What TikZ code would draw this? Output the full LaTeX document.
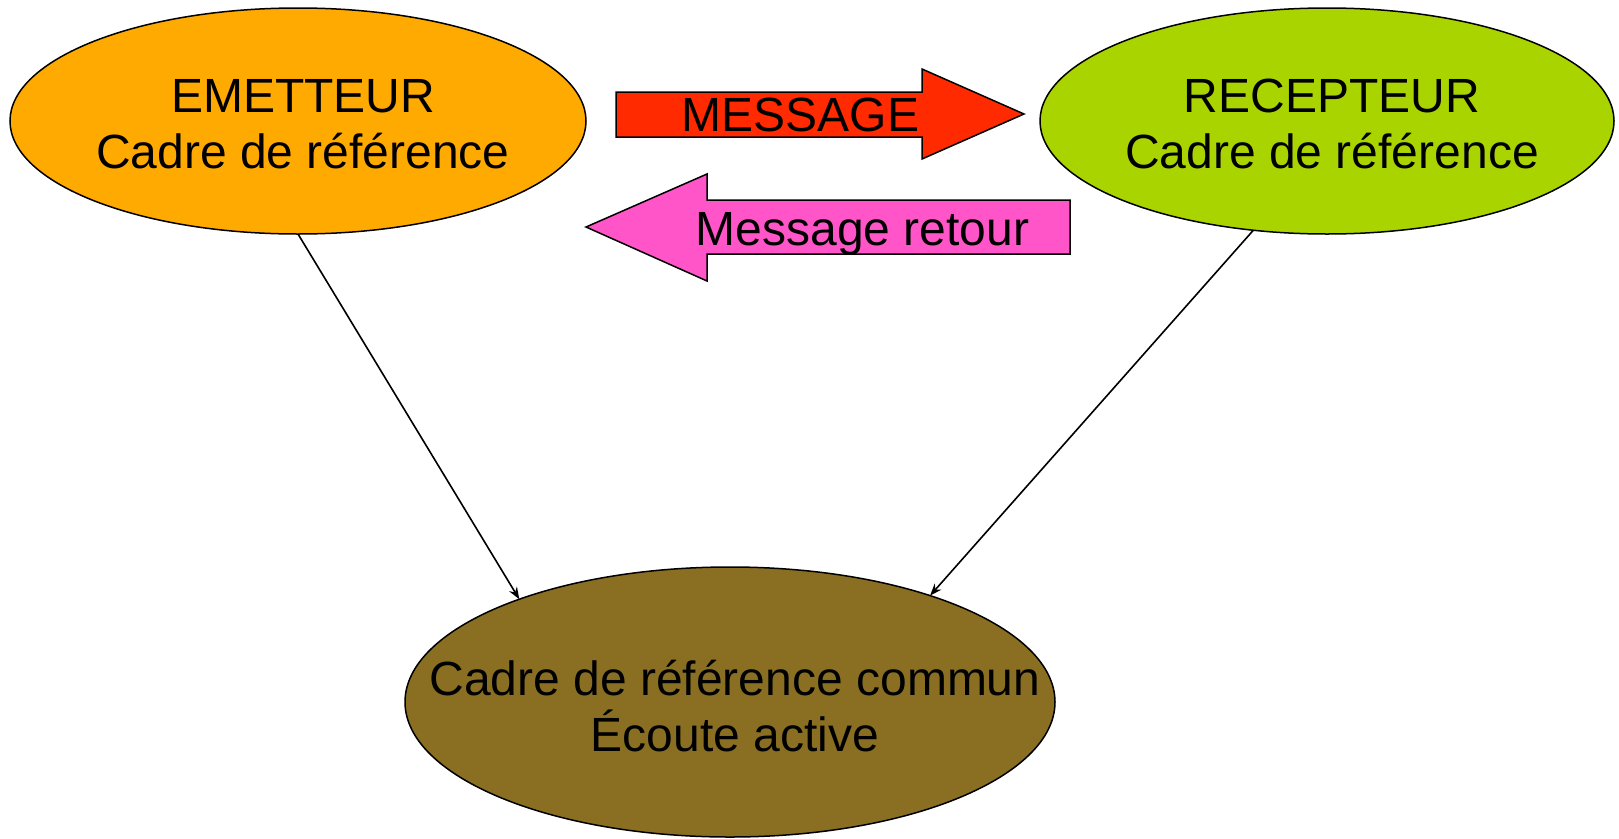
\documentclass[tikz,border=0pt]{standalone}
\usepackage{fontspec}
\setmainfont{Liberation Sans}
\usetikzlibrary{shapes.geometric,arrows.meta}
\definecolor{emcol}{HTML}{FFAA00}
\definecolor{reccol}{HTML}{AAD400}
\definecolor{comcol}{HTML}{8A6F23}
\definecolor{msgcol}{HTML}{FF2A00}
\definecolor{retcol}{HTML}{FF55C8}
\begin{document}
\begin{tikzpicture}[x=1pt,y=-1pt,
  bubble/.style={ellipse, draw=black, line width=1.5pt, inner sep=0pt, outer sep=0pt},
  lbl/.style={font=\fontsize{48}{56}\selectfont, align=center, inner sep=0pt},
  blockarrow/.style={draw=black, line width=1.5pt, line join=miter},
  link/.style={line width=1.6pt, -{Stealth[length=12pt,width=9pt]}}]
\useasboundingbox (0,0) rectangle (1619,838);
% ellipses
\node[bubble, fill=emcol, minimum width=576pt, minimum height=226pt] (em) at (298,121) {};
\node[bubble, fill=reccol, minimum width=574pt, minimum height=226pt] (rec) at (1327,121) {};
\node[bubble, fill=comcol, minimum width=650pt, minimum height=270pt] (cm) at (730,702) {};
\node[lbl, xshift=5pt, yshift=-3pt] (emtext) at (em.center) {EMETTEUR\\Cadre de référence};
\node[lbl, xshift=5pt, yshift=-3pt] (rectext) at (rec.center) {RECEPTEUR\\Cadre de référence};
\node[lbl, xshift=5pt, yshift=-4pt] (cmtext) at (cm.center) {Cadre de référence commun\\Écoute active};
% block arrows
\draw[blockarrow, fill=msgcol] (616,92) -- (922,92) -- (922,69) -- (1024,114)
  -- (922,159) -- (922,137) -- (616,137) -- cycle;
\node[lbl, anchor=base] (msg) at (800.5,131) {MESSAGE};
\draw[blockarrow, fill=retcol] (1070,200) -- (707,200) -- (707,174) -- (586,227)
  -- (707,281) -- (707,254) -- (1070,254) -- cycle;
\node[lbl, anchor=base] (ret) at (862.5,245) {Message retour};
% connectors
\draw[link] (em.south) -- (cm.154);
\draw[link] (rec.236) -- (cm.28);
\end{tikzpicture}
\end{document}
